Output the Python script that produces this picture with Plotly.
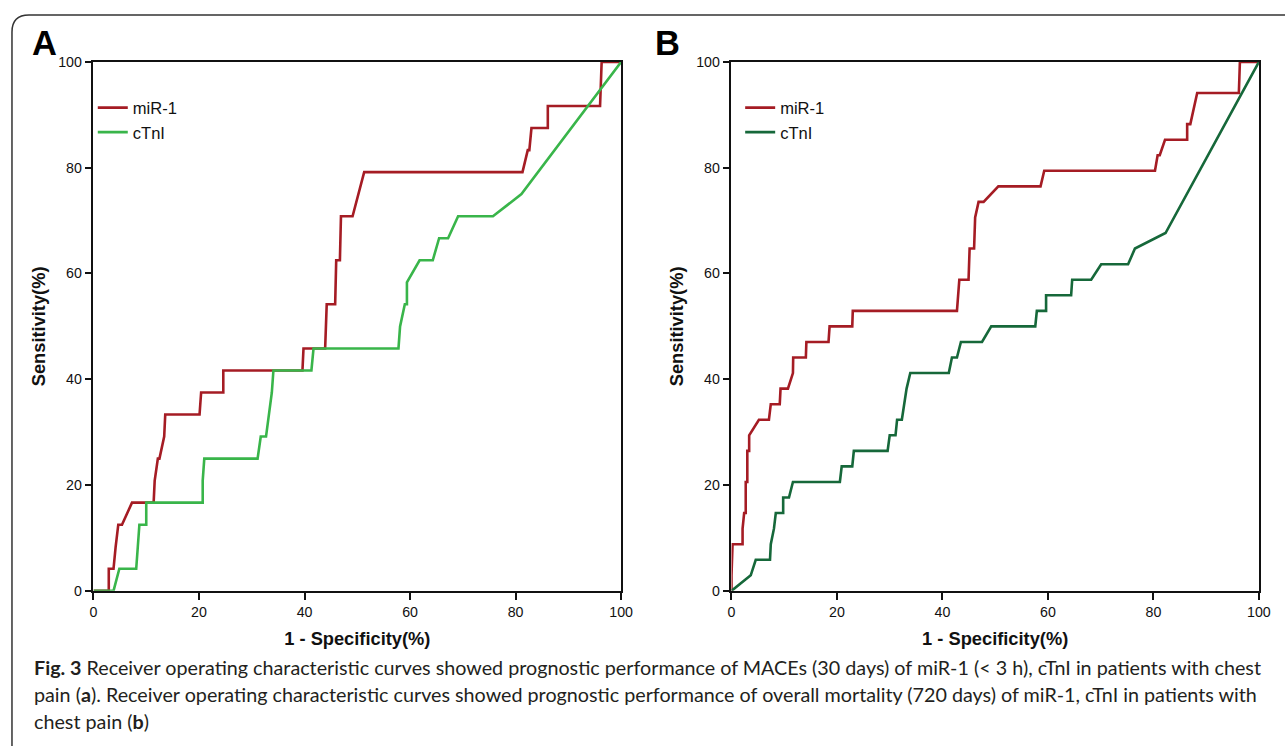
import plotly.graph_objects as go

W, H = 1285, 746

# ---------------- data ----------------
tick_vals = [0, 20, 40, 60, 80, 100]
tick_text = ["0", "20", "40", "60", "80", "100"]
series_names = ["miR-1", "cTnI"]

# Panel A: MACEs (30 days)
a_mir_x = [0, 2.9, 2.9, 3.8, 4.2, 4.7, 5.4, 7.3, 11.4, 11.6, 12.2, 12.5, 13.4, 13.6, 20.1, 20.4,
           24.6, 24.6, 39.6, 39.8, 43.9, 44.2, 45.8, 46.0, 46.7, 46.9, 49.1, 51.3, 81.3, 82.3,
           82.6, 83.0, 86.1, 86.1, 96.0, 96.3, 100]
a_mir_y = [0, 0, 4.17, 4.17, 8.33, 12.5, 12.5, 16.67, 16.67, 20.83, 25, 25, 29.17, 33.33, 33.33, 37.5,
           37.5, 41.67, 41.67, 45.83, 45.83, 54.17, 54.17, 62.5, 62.5, 70.83, 70.83, 79.17, 79.17, 83.33,
           83.33, 87.5, 87.5, 91.67, 91.67, 100, 100]

a_ctn_x = [0, 3.8, 4.9, 8.1, 8.4, 8.7, 10.0, 10.0, 20.7, 20.7, 21.0, 31.1, 31.7, 32.7, 33.8, 34.1,
           41.3, 41.7, 57.8, 58.1, 59.0, 59.4, 59.4, 61.8, 64.3, 65.5, 67.2, 69.1, 75.7, 81.1, 100]
a_ctn_y = [0, 0, 4.17, 4.17, 8.33, 12.5, 12.5, 16.67, 16.67, 20.83, 25, 25, 29.17, 29.17, 37.5, 41.67,
           41.67, 45.83, 45.83, 50, 54.17, 54.17, 58.33, 62.5, 62.5, 66.67, 66.67, 70.83, 70.83, 75, 100]

# Panel B: overall mortality (720 days)
b_mir_x = [0, 0, 0.2, 2.1, 2.1, 2.4, 2.7, 2.7, 3.0, 3.0, 3.35, 3.35, 5.2, 7.1, 7.45, 9.15, 9.3, 10.7,
           11.65, 11.7, 14.1, 14.2, 18.4, 18.6, 22.9, 23.0, 42.75, 43.2, 44.95, 45.15, 46.0, 46.2, 46.85,
           47.8, 50.6, 58.6, 59.3, 80.3, 80.8, 81.2, 82.2, 86.4, 86.4, 87.0, 88.3, 96.2, 96.3, 96.4, 100]
b_mir_y = [0, 2.94, 8.82, 8.82, 11.76, 14.71, 14.71, 20.59, 20.59, 26.47, 26.47, 29.41, 32.35, 32.35,
           35.29, 35.29, 38.24, 38.24, 41.18, 44.12, 44.12, 47.06, 47.06, 50, 50, 52.94, 52.94, 58.82,
           58.82, 64.71, 64.71, 70.59, 73.53, 73.53, 76.47, 76.47, 79.41, 79.41, 82.35, 82.35, 85.29,
           85.29, 88.24, 88.24, 94.12, 94.12, 97.06, 100, 100]

b_ctn_x = [0, 3.65, 4.6, 7.3, 7.45, 8.05, 8.4, 9.8, 9.8, 10.9, 11.65, 20.55, 20.9, 22.9, 23.2, 29.6,
           30.0, 31.1, 31.4, 32.3, 33.2, 33.9, 41.2, 41.8, 42.75, 43.5, 47.5, 49.25, 57.6, 57.9, 59.65,
           59.65, 64.4, 64.6, 68.2, 70.1, 75.2, 76.5, 82.3, 100]
b_ctn_y = [0, 2.94, 5.88, 5.88, 8.82, 11.76, 14.71, 14.71, 17.65, 17.65, 20.59, 20.59, 23.53, 23.53,
           26.47, 26.47, 29.41, 29.41, 32.35, 32.35, 38.24, 41.18, 41.18, 44.12, 44.12, 47.06, 47.06, 50,
           50, 52.94, 52.94, 55.88, 55.88, 58.82, 58.82, 61.76, 61.76, 64.71, 67.65, 100]

# ---------------- styling ----------------
RED = "#a51c24"
GREEN_A = "#39b54a"
GREEN_B = "#16683a"
AX_FONT = "Liberation Sans, Arial, sans-serif"
CAP_FONT = "Lato, Noto Sans, sans-serif"

# capture of the page is slightly scaled; map target picture pixels to page pixels
SX, OX, SY, OY = 0.99, 3.0, 0.98, 7.0
FS = 1.0 / 0.985  # font compensation


def px_x(p):
    return ((p - OX) / SX) / W


def px_y(p):
    return 1 - ((p - OY) / SY) / H


fig = go.Figure()
fig.add_trace(go.Scatter(x=a_mir_x, y=a_mir_y, mode="lines", name=series_names[0],
                         line=dict(color=RED, width=2.6), xaxis="x", yaxis="y", legend="legend"))
fig.add_trace(go.Scatter(x=a_ctn_x, y=a_ctn_y, mode="lines", name=series_names[1],
                         line=dict(color=GREEN_A, width=2.6), xaxis="x", yaxis="y", legend="legend"))
fig.add_trace(go.Scatter(x=b_mir_x, y=b_mir_y, mode="lines", name=series_names[0],
                         line=dict(color=RED, width=2.6), xaxis="x2", yaxis="y2", legend="legend2"))
fig.add_trace(go.Scatter(x=b_ctn_x, y=b_ctn_y, mode="lines", name=series_names[1],
                         line=dict(color=GREEN_B, width=2.6), xaxis="x2", yaxis="y2", legend="legend2"))


def axis(domain, anchor, title, standoff):
    return dict(
        domain=domain, anchor=anchor, range=[0, 100],
        tickmode="array", tickvals=tick_vals, ticktext=tick_text,
        ticks="outside", ticklen=7, tickwidth=1.5, tickcolor="#111",
        showline=True, linecolor="#111", linewidth=1.5, mirror=True,
        showgrid=False, zeroline=False,
        tickfont=dict(family=AX_FONT, size=14 * FS, color="#111"),
        title=dict(text=title, standoff=standoff,
                   font=dict(family=AX_FONT, size=18 * FS, color="#111", weight="bold")),
    )


xdomA = [px_x(92.7), px_x(621.7)]
xdomB = [px_x(732.3), px_x(1261)]
ydom = [px_y(590.7), px_y(61)]

legend_font = dict(family=AX_FONT, size=16.3 * FS, color="#111")
fig.update_layout(
    width=W, height=H, autosize=False,
    margin=dict(l=0, r=0, t=0, b=0),
    paper_bgcolor="white", plot_bgcolor="white",
    xaxis=axis(xdomA, "y", "1 - Specificity(%)", 14),
    yaxis=axis(ydom, "x", "Sensitivity(%)", 8),
    xaxis2=axis(xdomB, "y2", "1 - Specificity(%)", 14),
    yaxis2=axis(ydom, "x2", "Sensitivity(%)", 8),
    legend=dict(x=px_x(92), y=px_y(89.5), xanchor="left", yanchor="top",
                bgcolor="rgba(0,0,0,0)", font=legend_font, tracegroupgap=0),
    legend2=dict(x=px_x(741), y=px_y(89.5), xanchor="left", yanchor="top",
                 bgcolor="rgba(0,0,0,0)", font=legend_font, tracegroupgap=0),
    showlegend=True,
)

# outer rounded frame
r = 17
x0, y0 = 11, 14
path = (f"M {px_x(1300)},{px_y(y0)} L {px_x(x0 + r)},{px_y(y0)} "
        f"Q {px_x(x0)},{px_y(y0)} {px_x(x0)},{px_y(y0 + r)} L {px_x(x0)},{px_y(770)}")
fig.add_shape(type="path", path=path, xref="paper", yref="paper",
              line=dict(color="#333", width=1.5))

# panel letters
for letter, cx in (("A", 43.5), ("B", 668)):
    fig.add_annotation(text=letter, x=px_x(cx), y=px_y(42), xref="paper", yref="paper",
                       xanchor="center", yanchor="middle", showarrow=False,
                       font=dict(family=AX_FONT, size=34 * FS, color="#000", weight="bold"))

caption_lines = [
    "<b>Fig. 3</b> Receiver operating characteristic curves showed prognostic performance of MACEs (30 days) of miR-1 (&lt; 3 h), cTnI in patients with chest",
    "pain (<b>a</b>). Receiver operating characteristic curves showed prognostic performance of overall mortality (720 days) of miR-1, cTnI in patients with",
    "chest pain (<b>b</b>)",
]
for txt, cy in zip(caption_lines, (667, 695, 722)):
    fig.add_annotation(text=txt, x=px_x(31), y=px_y(cy), xref="paper", yref="paper",
                       xanchor="left", yanchor="middle", showarrow=False, align="left",
                       font=dict(family=CAP_FONT, size=19.45 * FS, color="#231f20"))

fig.write_html(
    "out.html",
    config={"displayModeBar": False},
    post_script="document.body.style.margin='0';document.body.style.overflow='hidden';",
)
